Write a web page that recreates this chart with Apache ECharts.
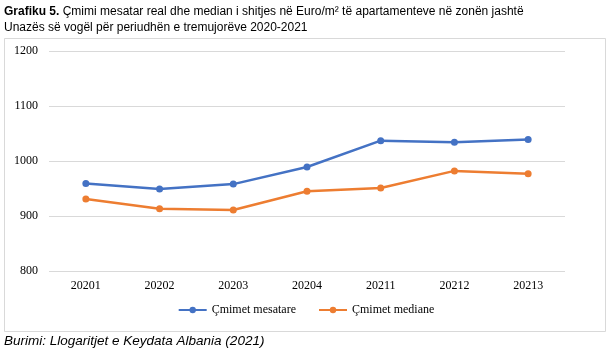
<!DOCTYPE html>
<html><head><meta charset="utf-8">
<script src="https://cdn.jsdelivr.net/npm/echarts@6/dist/echarts.min.js"></script>
<style>html,body{margin:0;padding:0;background:#fff;}#c{width:612px;height:358px;}</style>
</head><body><div id="c"></div>
<script>
const categories = ['20201','20202','20203','20204','20211','20212','20213'];
const mesatare = [959, 949, 958, 989, 1037, 1034, 1039];
const mediane = [931, 913, 911, 945, 951, 982, 977];
const yTicks = [800, 900, 1000, 1100, 1200];

const chart = echarts.init(document.getElementById('c'), null, {renderer: 'canvas'});
const serif = '"Liberation Serif", "DejaVu Serif", serif';
const cal = '"Liberation Sans", sans-serif';
chart.setOption({
  animation: false,
  backgroundColor: '#fff',
  graphic: [
    {type: 'rect', shape: {x: 4.5, y: 38.5, width: 601, height: 293}, style: {fill: 'none', stroke: '#d9d9d9', lineWidth: 1}, z: -1},
    {type: 'text', left: 4, top: 6, style: {rich: {b: {fontFamily: cal, fontWeight: 'bold', fontSize: 12, fill: '#000'}, n: {fontFamily: cal, fontSize: 12, fill: '#000'}}, text: '{b|Grafiku 5.} {n|Çmimi mesatar real dhe median i shitjes në Euro/m² të apartamenteve në zonën jashtë}'}},
    {type: 'text', left: 4, top: 22, style: {fontFamily: cal, fontSize: 12, fill: '#000', text: 'Unazës së vogël për periudhën e tremujorëve 2020-2021'}},
    {type: 'text', left: 4, top: 334, style: {fontFamily: cal, fontSize: 13.5, fontStyle: 'italic', fill: '#000', text: 'Burimi: Llogaritjet e Keydata Albania (2021)'}}
  ],
  grid: {left: 49, right: 47, top: 51, bottom: 87, containLabel: false},
  legend: {
    bottom: 37, left: 'center', itemWidth: 28, itemHeight: 8, itemGap: 22,
    textStyle: {fontFamily: serif, fontSize: 12, color: '#000'},
    data: ['Çmimet mesatare', 'Çmimet mediane']
  },
  xAxis: {
    type: 'category', data: categories, boundaryGap: true,
    axisLine: {show: false}, axisTick: {show: false},
    axisLabel: {fontFamily: serif, fontSize: 12, color: '#000', margin: 9}
  },
  yAxis: {
    type: 'value', min: yTicks[0], max: yTicks[yTicks.length - 1], interval: 100,
    axisLine: {show: false}, axisTick: {show: false},
    axisLabel: {fontFamily: serif, fontSize: 12, color: '#000', margin: 11, formatter: v => String(v)},
    splitLine: {lineStyle: {color: '#d9d9d9', width: 1}}
  },
  series: [
    {name: 'Çmimet mesatare', type: 'line', data: mesatare, symbol: 'circle', symbolSize: 7,
     lineStyle: {color: '#4472C4', width: 2.5}, itemStyle: {color: '#4472C4'}},
    {name: 'Çmimet mediane', type: 'line', data: mediane, symbol: 'circle', symbolSize: 7,
     lineStyle: {color: '#ED7D31', width: 2.5}, itemStyle: {color: '#ED7D31'}}
  ]
});
</script></body></html>
